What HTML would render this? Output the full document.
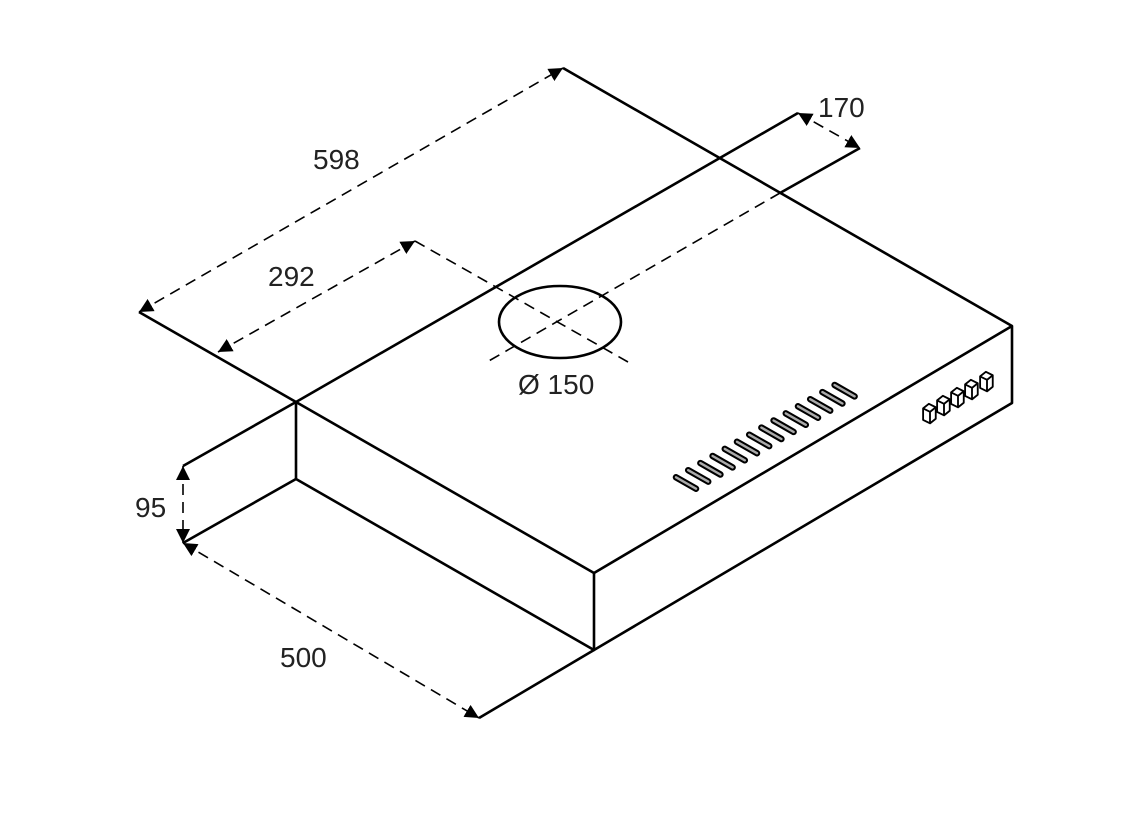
<!DOCTYPE html>
<html><head><meta charset="utf-8"><style>
html,body{margin:0;padding:0;background:#fff;}
svg{display:block;}
text{font-family:"Liberation Sans",sans-serif;font-size:28px;fill:#222;}
</style></head><body>
<svg width="1144" height="830" viewBox="0 0 1144 830" xmlns="http://www.w3.org/2000/svg">
<defs>
<marker id="a" viewBox="0 0 10 10" refX="10" refY="5" markerWidth="14" markerHeight="14" markerUnits="userSpaceOnUse" orient="auto-start-reverse">
<path d="M0,0 L10,5 L0,10 Z" fill="#000"/>
</marker>
</defs>
<g stroke="#000" stroke-width="2.6" fill="none" stroke-linejoin="round">
<path d="M296,402 L798,113"/>
<path d="M563,68 L1012,326 L1012,403 L594,650 L296,479 L296,402 L594,573 L1012,326"/>
<path d="M594,573 L594,650"/>
<path d="M139,312 L296,402"/>
<path d="M296,402 L183,466"/>
<path d="M296,479 L183,543"/>
<path d="M594,650 L479,718"/>
<path d="M860,148 L780,193"/>
<ellipse cx="560" cy="322" rx="61" ry="36"/>
</g>
<g stroke="#000" stroke-width="1.6" fill="none" stroke-dasharray="11 7">
<line x1="139" y1="312" x2="563" y2="68" marker-start="url(#a)" marker-end="url(#a)"/>
<line x1="798" y1="113" x2="860" y2="148" marker-start="url(#a)" marker-end="url(#a)"/>
<line x1="218" y1="352" x2="415" y2="241" marker-start="url(#a)" marker-end="url(#a)"/>
<line x1="415" y1="241" x2="628" y2="362"/>
<line x1="780" y1="193" x2="487" y2="362"/>
<line x1="183" y1="466" x2="183" y2="543" marker-start="url(#a)" marker-end="url(#a)"/>
<line x1="183" y1="543" x2="479" y2="718" marker-start="url(#a)" marker-end="url(#a)"/>
</g>
<g stroke="#000" stroke-width="1.6" fill="#fff" stroke-linejoin="round">
<path transform="translate(930,413) scale(1.15)" d="M-6,-4 L-1,-8 L5,-5 L5,5 L0,9 L-6,6 Z M-6,-4 L0,-1 L5,-5 M0,-1 L0,9"/>
<path transform="translate(944,405) scale(1.15)" d="M-6,-4 L-1,-8 L5,-5 L5,5 L0,9 L-6,6 Z M-6,-4 L0,-1 L5,-5 M0,-1 L0,9"/>
<path transform="translate(958,397) scale(1.15)" d="M-6,-4 L-1,-8 L5,-5 L5,5 L0,9 L-6,6 Z M-6,-4 L0,-1 L5,-5 M0,-1 L0,9"/>
<path transform="translate(972,389) scale(1.15)" d="M-6,-4 L-1,-8 L5,-5 L5,5 L0,9 L-6,6 Z M-6,-4 L0,-1 L5,-5 M0,-1 L0,9"/>
<path transform="translate(987,381) scale(1.15)" d="M-6,-4 L-1,-8 L5,-5 L5,5 L0,9 L-6,6 Z M-6,-4 L0,-1 L5,-5 M0,-1 L0,9"/>
</g>
<g stroke-linecap="round">
<path d="M676,477.3 L696,488.7 M688.2,470.2 L708.2,481.6 M700.4,463.1 L720.4,474.5 M712.6,456 L732.6,467.4 M724.8,448.9 L744.8,460.3 M737,441.8 L757,453.2 M749.2,434.7 L769.2,446.1 M761.4,427.6 L781.4,439 M773.6,420.5 L793.6,431.9 M785.8,413.4 L805.8,424.8 M798,406.3 L818,417.7 M810.2,399.2 L830.2,410.6 M822.4,392.1 L842.4,403.5 M834.6,385 L854.6,396.4" stroke="#000" stroke-width="6.5" fill="none"/>
<path d="M676,477.3 L696,488.7 M688.2,470.2 L708.2,481.6 M700.4,463.1 L720.4,474.5 M712.6,456 L732.6,467.4 M724.8,448.9 L744.8,460.3 M737,441.8 L757,453.2 M749.2,434.7 L769.2,446.1 M761.4,427.6 L781.4,439 M773.6,420.5 L793.6,431.9 M785.8,413.4 L805.8,424.8 M798,406.3 L818,417.7 M810.2,399.2 L830.2,410.6 M822.4,392.1 L842.4,403.5 M834.6,385 L854.6,396.4" stroke="#aaa" stroke-width="2.4" fill="none"/>
</g>
<text x="313" y="169">598</text>
<text x="818" y="117">170</text>
<text x="268" y="286">292</text>
<text x="518" y="394">Ø 150</text>
<text x="135" y="517">95</text>
<text x="280" y="667">500</text>
</svg>
</body></html>
